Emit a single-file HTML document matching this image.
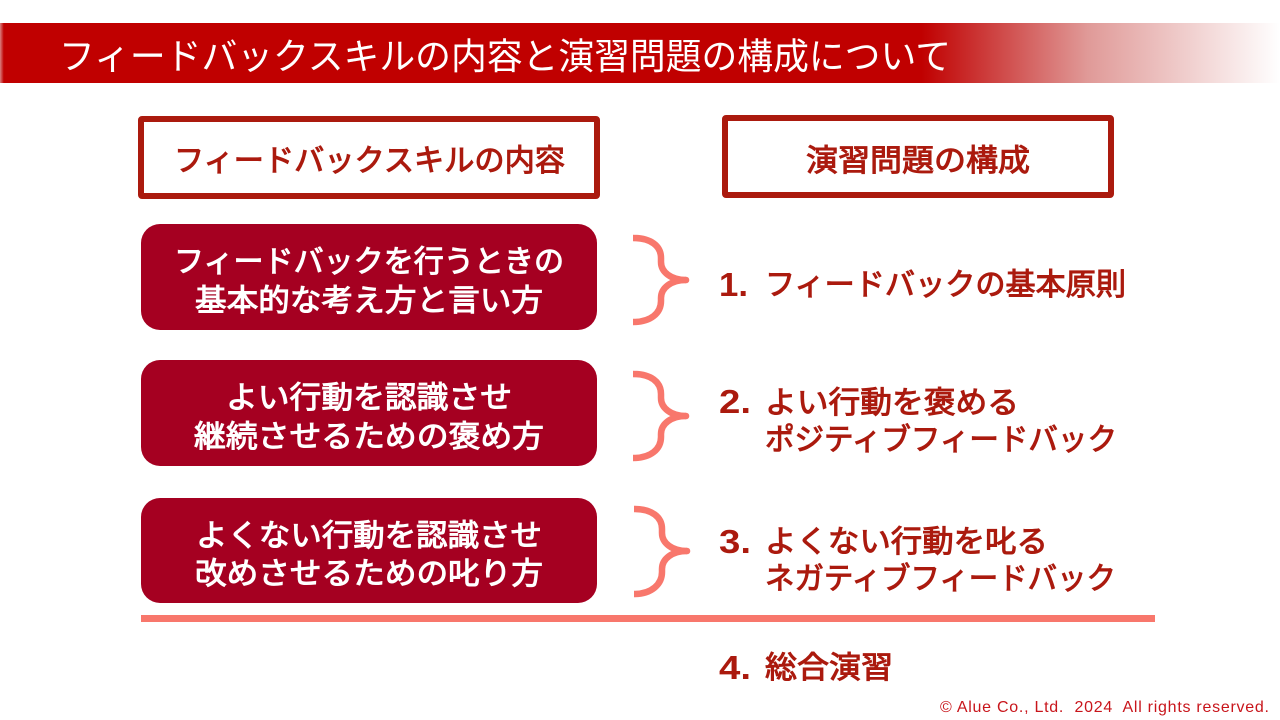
<!DOCTYPE html>
<html lang="ja"><head><meta charset="utf-8"><style>
html,body{margin:0;padding:0;background:#fff;width:1280px;height:720px;overflow:hidden}
svg{display:block}
text{font-family:"Liberation Sans","Noto Sans CJK JP",sans-serif;white-space:pre}
.h{font-family:"Noto Sans CJK JP",sans-serif;font-size:30.5px;font-weight:400;fill:#ab1a0e;stroke:#ab1a0e;stroke-width:1px}
.w{font-family:"Noto Sans CJK JP",sans-serif;font-size:30.5px;font-weight:400;fill:#fff;stroke:#fff;stroke-width:1px;text-anchor:middle}
.r{font-family:"Noto Sans CJK JP",sans-serif;font-size:30.5px;font-weight:400;fill:#ab1a0e;stroke:#ab1a0e;stroke-width:1px}
.n{font-family:"Liberation Sans",sans-serif;font-size:33px;font-weight:700;fill:#ab1a0e}
.b{fill:none;stroke:#f8776c;stroke-width:6.5}
.t{fill:#f8776c}
</style></head><body>
<svg width="1280" height="720" viewBox="0 0 1280 720" xmlns="http://www.w3.org/2000/svg">
<defs><linearGradient id="g" x1="0" x2="1" y1="0" y2="0">
<stop offset="0" stop-color="#d98080"/><stop offset="0.003" stop-color="#c00000"/><stop offset="0.72" stop-color="#c00000"/><stop offset="0.85" stop-color="#e09a98"/><stop offset="1" stop-color="#ffffff"/></linearGradient></defs>
<rect x="0" y="23" width="1280" height="60" fill="url(#g)"/>
<text x="59" y="69" font-size="36.5" fill="#fff" textLength="892" lengthAdjust="spacingAndGlyphs" style="font-family:'Noto Sans CJK JP',sans-serif">フィードバックスキルの内容と演習問題の構成について</text>

<rect x="141" y="119" width="456" height="77" rx="1" fill="#fff" stroke="#ab1a0e" stroke-width="6"/>
<rect x="725" y="118" width="386" height="77" rx="1" fill="#fff" stroke="#ab1a0e" stroke-width="6"/>
<text class="h" x="174" y="171" textLength="391" lengthAdjust="spacingAndGlyphs">フィードバックスキルの内容</text>
<text class="h" x="806" y="171" textLength="224" lengthAdjust="spacingAndGlyphs">演習問題の構成</text>

<rect x="141" y="224" width="456" height="106" rx="19" fill="#a50021"/>
<rect x="141" y="360" width="456" height="106" rx="19" fill="#a50021"/>
<rect x="141" y="498" width="456" height="105" rx="19" fill="#a50021"/>
<text class="w" x="369" y="272" textLength="390" lengthAdjust="spacingAndGlyphs">フィードバックを行うときの</text>
<text class="w" x="369" y="311" textLength="348" lengthAdjust="spacingAndGlyphs">基本的な考え方と言い方</text>
<text class="w" x="369" y="408" textLength="286" lengthAdjust="spacingAndGlyphs">よい行動を認識させ</text>
<text class="w" x="369" y="447" textLength="350" lengthAdjust="spacingAndGlyphs">継続させるための褒め方</text>
<text class="w" x="369" y="546" textLength="346" lengthAdjust="spacingAndGlyphs">よくない行動を認識させ</text>
<text class="w" x="369" y="584" textLength="348" lengthAdjust="spacingAndGlyphs">改めさせるための叱り方</text>

<path class="b" d="M633 238 C651 238 661 246 661 258 L661 262 C661 272 671 280 686 280 C671 280 661 288 661 298 L661 301 C661 313 651 322 633 322"/>
<circle class="t" cx="686" cy="280" r="3.3"/>
<path class="b" d="M633 374 C651 374 661 382 661 394 L661 398 C661 408 671 416 686 416 C671 416 661 424 661 434 L661 437 C661 449 651 458 633 458"/>
<circle class="t" cx="686" cy="416" r="3.3"/>
<path class="b" d="M634 509 C652 509 662 517 662 529 L662 533 C662 543 672 551 687 551 C672 551 662 559 662 569 L662 572 C662 584 652 594 634 594"/>
<circle class="t" cx="687" cy="551" r="3.3"/>

<text class="n" x="719" y="296" textLength="29" lengthAdjust="spacingAndGlyphs">1.</text>
<text class="r" x="765" y="295" textLength="361" lengthAdjust="spacingAndGlyphs">フィードバックの基本原則</text>
<text class="n" x="719" y="413" textLength="32" lengthAdjust="spacingAndGlyphs">2.</text>
<text class="r" x="765" y="413" textLength="254" lengthAdjust="spacingAndGlyphs">よい行動を褒める</text>
<text class="r" x="765" y="450" textLength="352" lengthAdjust="spacingAndGlyphs">ポジティブフィードバック</text>
<text class="n" x="719" y="553" textLength="32" lengthAdjust="spacingAndGlyphs">3.</text>
<text class="r" x="765" y="552" textLength="283" lengthAdjust="spacingAndGlyphs">よくない行動を叱る</text>
<text class="r" x="765" y="589" textLength="351" lengthAdjust="spacingAndGlyphs">ネガティブフィードバック</text>
<rect x="141" y="615" width="1014" height="7" fill="#f8776c"/>
<text class="n" x="719" y="679" textLength="32" lengthAdjust="spacingAndGlyphs">4.</text>
<text class="r" x="765" y="678" textLength="128" lengthAdjust="spacingAndGlyphs">総合演習</text>
<text x="940" y="712" font-size="16" fill="#c8151b" textLength="329" lengthAdjust="spacing">©︎ Alue Co., Ltd.  2024  All rights reserved.</text>
</svg>
</body></html>
